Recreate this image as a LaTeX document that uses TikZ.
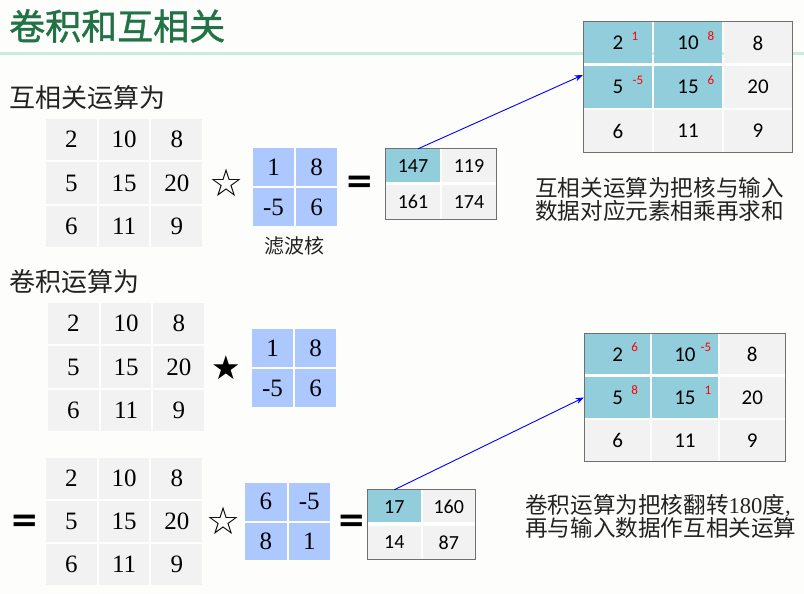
\documentclass[tikz,border=0pt]{standalone}
\usepackage{fontspec}
\setmainfont{Liberation Serif}
\newfontfamily\tnr{Liberation Serif}
\newfontfamily\cjk{Noto Sans CJK SC}
\newfontfamily\cjktitle[FakeBold=1.2]{Noto Sans CJK SC}
\newfontfamily\calfont{Carlito}
\newfontfamily\djv{DejaVu Sans}
\usetikzlibrary{arrows.meta}
\definecolor{bgc}{HTML}{FDFDFB}
\definecolor{cellgray}{HTML}{F2F2F2}
\definecolor{kblue}{HTML}{ADC8FF}
\definecolor{teal1}{HTML}{92CDDC}
\definecolor{titlegreen}{HTML}{217346}
\definecolor{mint}{HTML}{C6EFDB}
\definecolor{bordergray}{HTML}{707070}
\definecolor{txt}{HTML}{222222}
\newcommand{\mkgrid}[7]{%
  \foreach \r/\c/\v in {#7}{%
    \node[#6, minimum width={#4*1pt-2pt}, minimum height={#5*1pt-2pt}] (#1-\r-\c) at ({#2+(\c-0.5)*#4},{#3+(\r-0.5)*#5}) {\v};
  }}
\tikzset{
  gcell/.style={fill=cellgray, inner sep=0pt, text=black, font=\tnr\fontsize{25}{25}\selectfont},
  kcell/.style={fill=kblue, inner sep=0pt, text=black, font=\tnr\fontsize{25}{25}\selectfont},
  tcell/.style={fill=teal1, inner sep=0pt, text=black, font=\calfont\fontsize{21}{21}\selectfont},
  bcell/.style={fill=cellgray, inner sep=0pt, text=black, font=\calfont\fontsize{21}{21}\selectfont},
  rtcell/.style={fill=teal1, inner sep=0pt, text=black, font=\calfont\fontsize{20}{20}\selectfont},
  rbcell/.style={fill=cellgray, inner sep=0pt, text=black, font=\calfont\fontsize{20}{20}\selectfont},
  supnum/.style={inner sep=0pt, text=red, font=\calfont\fontsize{13}{13}\selectfont},
  lbl/.style={inner sep=0pt, anchor=west, text=txt, font=\cjk\fontsize{26}{26}\selectfont},
  expl/.style={inner sep=0pt, anchor=north west, align=left, text=txt, font=\cjk\fontsize{22.6}{23.5}\selectfont},
  opstar/.style={inner sep=0pt, text=black, font=\djv\fontsize{38}{38}\selectfont},
  opeq/.style={inner sep=0pt, text=black, font=\djv\bfseries\fontsize{34}{34}\selectfont},
  frame/.style={draw=bordergray, line width=1.5pt},
  sep/.style={draw=white, line width=3pt},
  arr/.style={draw=blue, line width=0.9pt, -{Stealth[length=8pt,width=6pt]}},
}
\begin{document}
\begin{tikzpicture}[x=1pt,y=-1pt]
\fill[bgc] (0,0) rectangle (804,594);
\useasboundingbox (0,0) rectangle (804,594);
% title
\node[inner sep=0pt, anchor=west, text=titlegreen, font=\cjktitle\fontsize{36}{36}\selectfont] (title) at (9,26) {卷积和互相关};
\draw[mint, line width=3pt] (0,54) -- (804,54);
% labels
\node[lbl] (lab1) at (9,98) {互相关运算为};
\node[lbl] (lab2) at (9,282) {卷积运算为};
% matrix 1
\mkgrid{m1}{45}{118}{52.7}{43.3}{gcell}{1/1/2,1/2/10,1/3/8,2/1/5,2/2/15,2/3/20,3/1/6,3/2/11,3/3/9}
\node[opstar] (st1) at (227,183) {☆};
\mkgrid{k1}{252}{147}{43}{40}{kcell}{1/1/1,1/2/8,2/1/-5,2/2/6}
\node[inner sep=0pt, text=txt, font=\cjk\fontsize{20}{20}\selectfont] (kl) at (294,246) {滤波核};
\node[opeq] (eq1) at (360,184) {=};
% result 1
\mkgrid{r1}{385}{148}{56}{36}{rbcell}{1/2/119,2/1/161,2/2/174}
\mkgrid{r1}{385}{148}{56}{36}{rtcell}{1/1/147}
\draw[sep] (r1-1-1.south west) -- (r1-1-2.south east);
\draw[frame] ([shift={(-0.5pt,0.5pt)}]r1-1-1.north west) rectangle ([shift={(0.5pt,-0.5pt)}]r1-2-2.south east);
% big grid 1
\mkgrid{b1}{583}{21}{70}{44}{tcell}{1/1/2,1/2/10,2/1/5,2/2/15}
\mkgrid{b1}{583}{21}{70}{44}{bcell}{1/3/8,2/3/20,3/1/6,3/2/11,3/3/9}
\draw[sep] ([yshift=-0.5pt]b1-1-1.south west) -- ([yshift=-0.5pt]b1-1-3.south east);
\draw[frame] ([shift={(-0.5pt,0.5pt)}]b1-1-1.north west) rectangle ([shift={(0.5pt,-0.5pt)}]b1-3-3.south east);
\node[supnum] (s11) at ([xshift=17pt,yshift=7pt]b1-1-1.center) {1};
\node[supnum] (s12) at ([xshift=23pt,yshift=7pt]b1-1-2.center) {8};
\node[supnum] (s21) at ([xshift=20pt,yshift=7pt]b1-2-1.center) {-5};
\node[supnum] (s22) at ([xshift=23pt,yshift=7pt]b1-2-2.center) {6};
\draw[arr] ([xshift=5pt]r1-1-1.north) -- ([shift={(-1pt,12pt)}]b1-2-1.west);
\node[expl] (ex1) at (535,177) {互相关运算为把核与输入\\数据对应元素相乘再求和};
% matrix 2
\mkgrid{m2}{47}{302}{52.7}{43.3}{gcell}{1/1/2,1/2/10,1/3/8,2/1/5,2/2/15,2/3/20,3/1/6,3/2/11,3/3/9}
\node[opstar, font=\djv\fontsize{33}{33}\selectfont] (st2) at (226,368) {★};
\mkgrid{k2}{251}{328}{43}{40}{kcell}{1/1/1,1/2/8,2/1/-5,2/2/6}
% matrix 3
\node[opeq] (eq2) at (25,523) {=};
\mkgrid{m3}{45}{457}{52.7}{43}{gcell}{1/1/2,1/2/10,1/3/8,2/1/5,2/2/15,2/3/20,3/1/6,3/2/11,3/3/9}
\node[opstar] (st3) at (224,521) {☆};
\mkgrid{k3}{244}{482}{43.5}{39.5}{kcell}{1/1/6,1/2/-5,2/1/8,2/2/1}
\node[opeq] (eq3) at (352,523) {=};
% result 2
\mkgrid{r2}{367}{489}{54.5}{35.5}{rbcell}{1/2/160,2/1/14,2/2/87}
\mkgrid{r2}{367}{489}{54.5}{35.5}{rtcell}{1/1/17}
\draw[sep] (r2-1-1.south west) -- (r2-1-2.south east);
\draw[frame] ([shift={(-0.5pt,0.5pt)}]r2-1-1.north west) rectangle ([shift={(0.5pt,-0.5pt)}]r2-2-2.south east);
% big grid 2
\mkgrid{b2}{584}{333}{67.3}{43}{tcell}{1/1/2,1/2/10,2/1/5,2/2/15}
\mkgrid{b2}{584}{333}{67.3}{43}{bcell}{1/3/8,2/3/20,3/1/6,3/2/11,3/3/9}
\draw[sep] ([yshift=-0.5pt]b2-1-1.south west) -- ([yshift=-0.5pt]b2-1-3.south east);
\draw[frame] ([shift={(-0.5pt,0.5pt)}]b2-1-1.north west) rectangle ([shift={(0.5pt,-0.5pt)}]b2-3-3.south east);
\node[supnum] (t11) at ([xshift=17pt,yshift=7pt]b2-1-1.center) {6};
\node[supnum] (t12) at ([xshift=21pt,yshift=7pt]b2-1-2.center) {-5};
\node[supnum] (t21) at ([xshift=17pt,yshift=7pt]b2-2-1.center) {8};
\node[supnum] (t22) at ([xshift=23pt,yshift=7pt]b2-2-2.center) {1};
\draw[arr] (r2-1-1.north) -- ([xshift=-1pt]b2-2-1.west);
\node[expl] (ex2) at (525,494) {卷积运算为把核翻转{\tnr 180}度{\tnr ,}\\再与输入数据作互相关运算};
\end{tikzpicture}
\end{document}
